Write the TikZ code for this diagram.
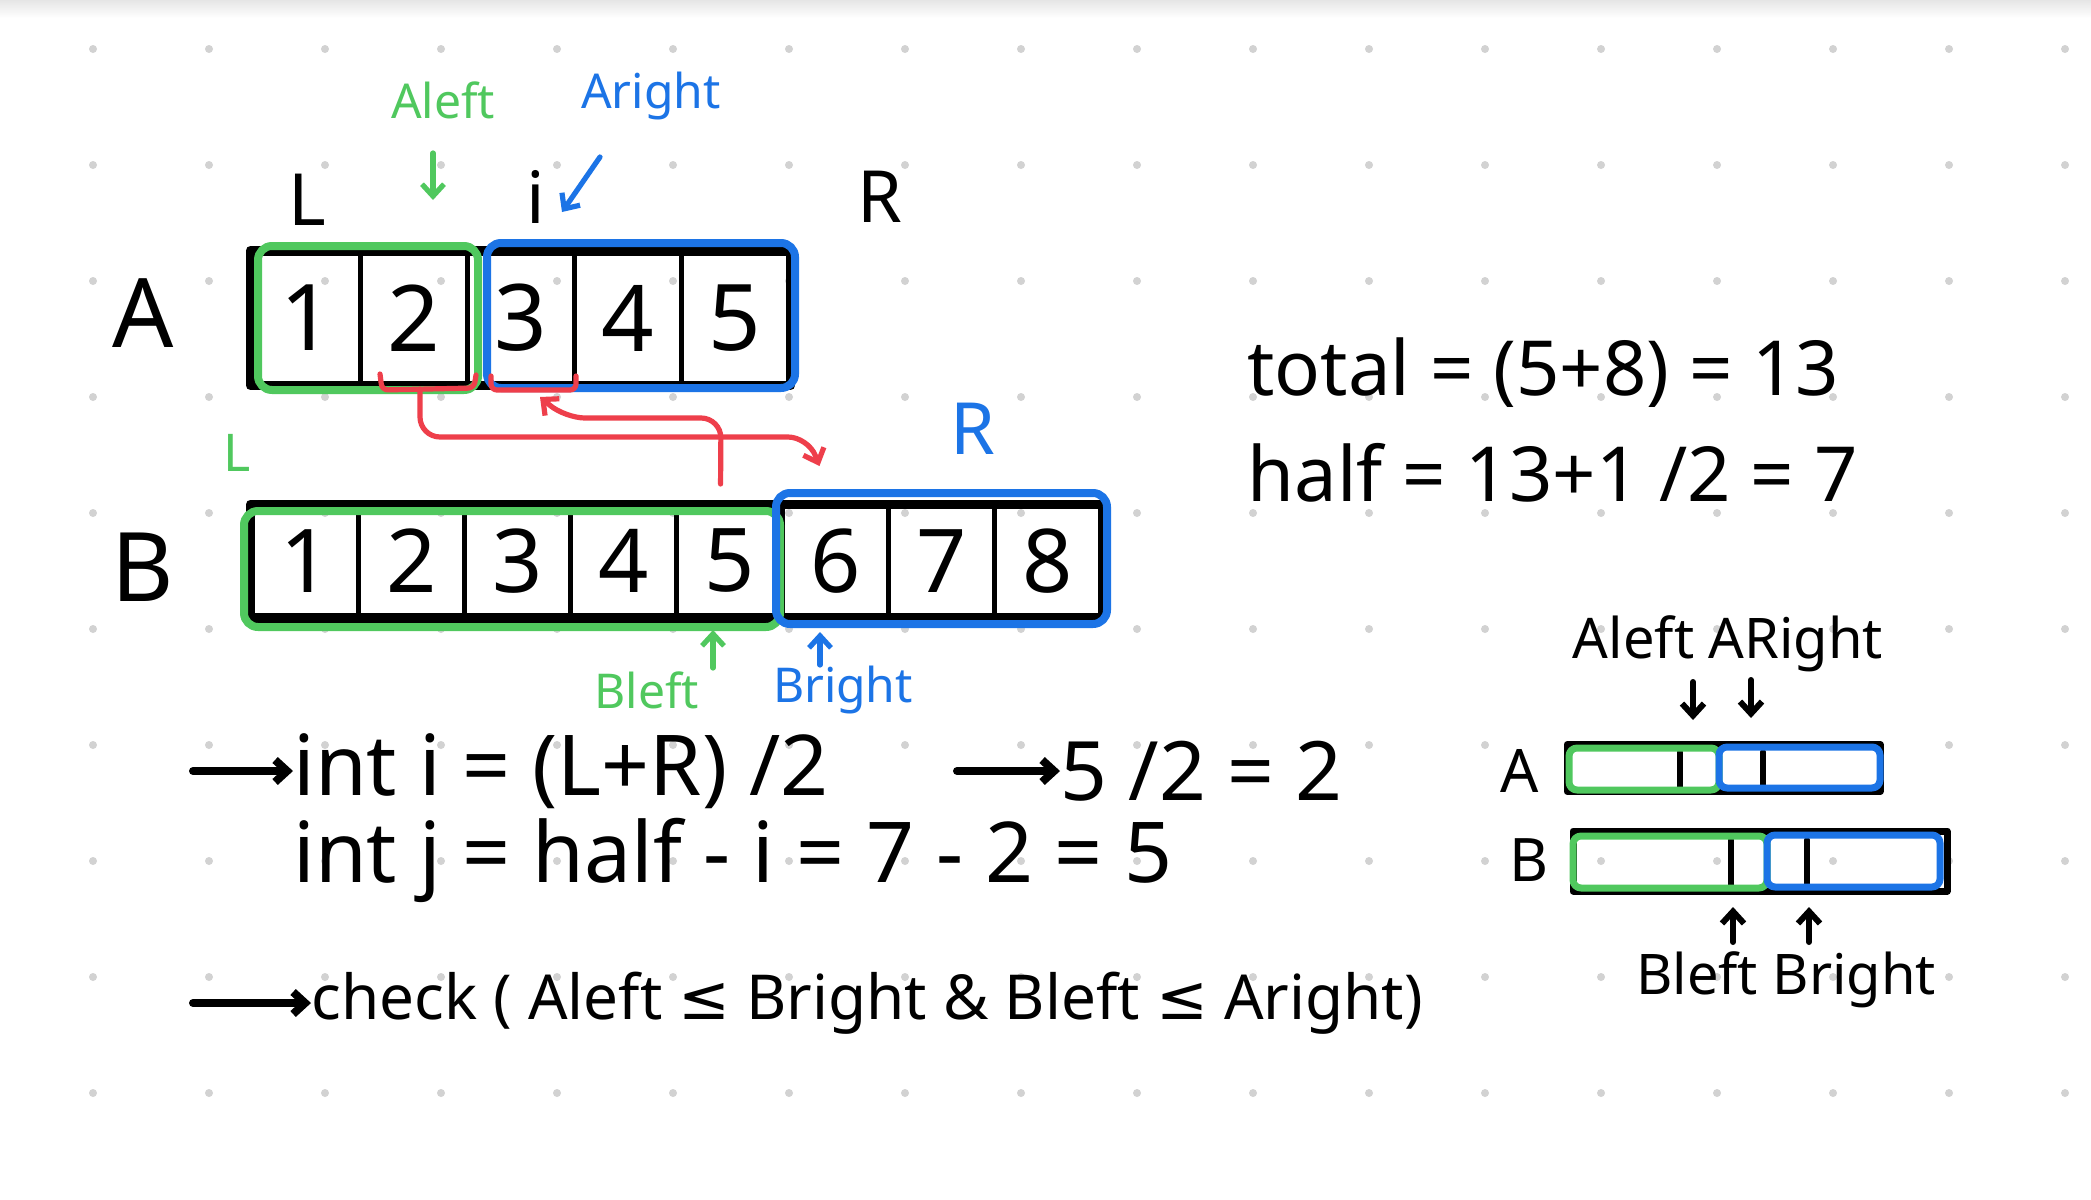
\documentclass[tikz,border=0pt]{standalone}
\usepackage{fontspec}
\newfontfamily\hand{Noto Sans}
\newfontfamily\symf{DejaVu Sans}
\usetikzlibrary{arrows.meta,calc}
\definecolor{hgreen}{HTML}{50C85E}
\definecolor{hblue}{HTML}{1C74E6}
\definecolor{hred}{HTML}{EE3F4B}
\definecolor{dotgray}{HTML}{D2D2D2}
\begin{document}
\begin{tikzpicture}[x=0.5pt,y=-0.5pt,line cap=round,line join=round,
  txt/.style={inner sep=0pt,font=\hand\fontsize{#1}{#1}\selectfont},
  cellA/.style={draw,line width=2.5pt,minimum width=53.5pt,minimum height=65pt,inner sep=0pt,font=\hand\fontsize{46}{46}\selectfont},
  cellB/.style={draw,line width=2.5pt,minimum width=53pt,minimum height=54.5pt,inner sep=0pt,font=\hand\fontsize{44}{44}\selectfont},
  outer/.style={draw=black,line width=4.5pt},
  gbox/.style={draw=hgreen,line width=4pt,rounded corners=7pt},
  bbox/.style={draw=hblue,line width=4pt,rounded corners=7pt},
  redl/.style={draw=hred,line width=2.6pt,rounded corners=10pt},
  inkarrow/.style={line width=#1,-{Straight Barb[length=6pt,width=11pt]}},
  inkarrow/.default=2.6pt,
  sbar/.style={draw,line width=3.5pt,inner sep=0pt},
]
\fill[white] (0,0) rectangle (2091,1199);
\useasboundingbox (0,0) rectangle (2091,1199);
\shade[top color=black!10,bottom color=white] (0,0) rectangle (2091,18);
% dot grid
\foreach \i in {0,...,17}
  \foreach \j in {0,...,9}
    \fill[dotgray] ({93+116*\i},{49+116*\j}) circle[radius=2pt];

% ---------- array A ----------
\foreach \v [count=\k] in {1,...,5}
  \node[cellA] (a\k) at ({253+107*(\k-0.5)},318) {\v};
\draw[outer] (a1.north west) rectangle (a5.south east);
\draw[gbox] (258,246) rectangle (478,390);
\draw[bbox] (487,243) rectangle (795,388);
\node[txt=48] (labA) at (143,313) {A};
\node[txt=36] (labL) at (307,200) {L};
\node[txt=36] (labi) at (536,197) {i};
\node[txt=36] (labR) at (880,197) {R};
\node[txt=24,text=hgreen] (aleft) at (443,100) {Aleft};
\node[txt=24,text=hblue] (aright) at (651,96) {Aright};
\draw[inkarrow,draw=hgreen] (433,153) -- (433,200);
\draw[inkarrow,draw=hblue] (600,157) -- (562,212);

% ---------- array B ----------
\foreach \v [count=\k] in {1,...,8}
  \node[cellB] (b\k) at ({253+105.9*(\k-0.5)},561) {\v};
\draw[outer] (b1.north west) rectangle (b8.south east);
\draw[gbox] (244,511) rectangle (780,627);
\draw[bbox] (776,493) rectangle (1107,624);
\node[txt=48] (labB) at (143,567) {B};
\node[txt=26,text=hgreen] (labLB) at (237,453) {L};
\node[txt=36,text=hblue] (labRB) at (973,429) {R};
\node[txt=24,text=hgreen] (bleft) at (647,690) {Bleft};
\node[txt=24,text=hblue] (bright) at (843,690) {Bright};
\draw[inkarrow,draw=hgreen] (713,668) -- (713,630);
\draw[inkarrow,draw=hblue] (820,665) -- (820,632);

% ---------- red brackets and connectors ----------
\draw[redl,rounded corners=3pt] (380,374) -- (382,390) -- (474,388) -- (476,375);
\draw[redl,rounded corners=3pt] (491,376) -- (491,390) -- (576,390) -- (576,376);
\coordinate (br2) at (420,389);
\coordinate (br3) at (540,397);
\coordinate (tob6) at ($(b6.north)+(-16,-38)$);
\coordinate (fromb5) at ($(b5.north)+(-9,-20)$);
\draw[redl,inkarrow] (br2) -- (420,437) -- (808,437) -- (tob6);
\draw[redl,inkarrow] (fromb5) -- (721,418) -- (565,418) -- (br3);

% ---------- formulas ----------
\node[txt=38,anchor=west] (total) at (1247,373) {total = (5+8) = 13};
\node[txt=38,anchor=west] (half) at (1247,473) {half = 13+1 /2 = 7};

\coordinate (ar1s) at (193,771);
\node[txt=42,anchor=west] (inti) at (293,771) {int i = (L+R) /2};
\draw[inkarrow=4pt] (ar1s) -- (inti.west);
\node[txt=41,anchor=west] (res) at (1060,771) {5 /2 = 2};
\draw[inkarrow=4pt] (957,771) -- (res.west);
\node[txt=42,anchor=west] (intj) at (293,860) {int j = half - i = 7 - 2 = 5};
\coordinate (ar3s) at (193,1003);
\node[txt=31,anchor=west] (check) at (311,1003) {check ( Aleft {\symf ≤} Bright \& Bleft {\symf ≤} Aright)};
\draw[inkarrow=4pt] (ar3s) -- (check.west);

% ---------- small diagram ----------
\node[txt=28] (sAR) at (1728,644) {Aleft ARight};
\draw[inkarrow=3pt] (1693,682) -- (1693,720);
\draw[inkarrow=3pt] (1751,680) -- (1751,718);
\node[txt=30] (sA) at (1520,771) {A};
\node[txt=30] (sB) at (1529,860) {B};
\node[sbar,minimum width=156.5pt,minimum height=23.5pt] (barA) at (1723.5,768) {};
\draw[line width=3pt] (1680,752) -- (1680,789);
\draw[line width=3pt] (1763,752) -- (1763,789);
\draw[gbox,line width=3.5pt,rounded corners=4pt] (1569,748) rectangle (1719,790);
\draw[bbox,line width=3.5pt,rounded corners=4pt] (1719,747) rectangle (1880,788);
\node[sbar,minimum width=187pt,minimum height=30pt] (barB) at (1760,861) {};
\draw[line width=3pt] (1731,840) -- (1731,885);
\draw[line width=3pt] (1807,840) -- (1807,885);
\draw[gbox,line width=3.5pt,rounded corners=4pt] (1573,836) rectangle (1767,888);
\draw[bbox,line width=3.5pt,rounded corners=4pt] (1767,835) rectangle (1940,887);
\node[txt=28] (sBR) at (1786,980) {Bleft Bright};
\draw[inkarrow=3pt] (1733,942) -- (1733,907);
\draw[inkarrow=3pt] (1809,942) -- (1809,907);
\end{tikzpicture}
\end{document}
